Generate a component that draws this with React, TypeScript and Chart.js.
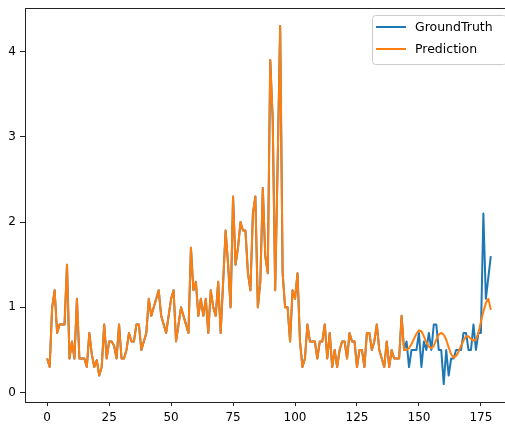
import React, { useEffect, useRef } from "react";
import { Chart, registerables } from "chart.js";

Chart.register(...registerables);

// Shared history (GroundTruth and Prediction coincide), index 0..144
const history: number[] = [
  0.4, 0.3, 1.0, 1.2, 0.7, 0.8, 0.8, 0.8, 1.5, 0.4,
  0.6, 0.4, 1.1, 0.4, 0.4, 0.4, 0.3, 0.7, 0.45, 0.3,
  0.38, 0.2, 0.3, 0.8, 0.4, 0.6, 0.6, 0.55, 0.4, 0.8,
  0.4, 0.4, 0.5, 0.7, 0.6, 0.6, 0.8, 0.8, 0.5, 0.6,
  0.7, 1.1, 0.9, 1.0, 1.1, 1.2, 0.9, 0.8, 0.7, 0.9,
  1.1, 1.2, 0.6, 0.8, 1.0, 0.9, 0.8, 0.7, 1.7, 1.2,
  1.3, 0.9, 1.1, 0.9, 1.1, 0.7, 1.2, 1.0, 0.9, 1.3,
  0.7, 1.3, 1.9, 1.5, 1.0, 2.3, 1.5, 1.7, 2.0, 1.9,
  1.9, 1.4, 1.2, 2.1, 2.3, 1.0, 1.3, 2.4, 1.6, 1.4,
  3.9, 3.2, 1.2, 2.7, 4.3, 1.4, 1.0, 1.0, 0.6, 1.2,
  1.1, 1.4, 0.6, 0.3, 0.4, 0.8, 0.6, 0.6, 0.6, 0.4,
  0.6, 0.6, 0.8, 0.4, 0.7, 0.3, 0.5, 0.3, 0.5, 0.6,
  0.6, 0.4, 0.7, 0.6, 0.6, 0.3, 0.5, 0.5, 0.3, 0.7,
  0.7, 0.5, 0.6, 0.8, 0.5, 0.4, 0.3, 0.6, 0.3, 0.5,
  0.4, 0.4, 0.4, 0.9, 0.5,
];

// Index 145..179
const groundTruthTail: number[] = [
  0.6, 0.3, 0.5, 0.5, 0.5, 0.7, 0.3, 0.6, 0.5, 0.7,
  0.5, 0.8, 0.8, 0.5, 0.5, 0.1, 0.5, 0.2, 0.4, 0.4,
  0.5, 0.5, 0.5, 0.7, 0.7, 0.5, 0.5, 0.8, 0.5, 0.7,
  0.7, 2.1, 1.1, 1.35, 1.6,
];

const predictionTail: number[] = [
  0.5, 0.52, 0.57, 0.63, 0.69, 0.73, 0.72, 0.66, 0.59, 0.54,
  0.52, 0.55, 0.62, 0.68, 0.7, 0.68, 0.62, 0.53, 0.45, 0.41,
  0.43, 0.48, 0.55, 0.61, 0.66, 0.66, 0.63, 0.61, 0.62, 0.7,
  0.83, 0.95, 1.05, 1.1, 0.97,
];

const groundTruth = [...history, ...groundTruthTail];
const prediction = [...history, ...predictionTail];

const seriesLabels = ["GroundTruth", "Prediction"];
const seriesColors = ["#1f77b4", "#ff7f0e"];
const xTicks = [0, 25, 50, 75, 100, 125, 150, 175];
const yTicks = [0, 1, 2, 3, 4];

const FONT = "'DejaVu Sans', sans-serif";

function margins(vals: number[]) {
  const lo = Math.min(...vals);
  const hi = Math.max(...vals);
  const m = (hi - lo) * 0.05;
  return [lo - m, hi + m];
}

const framePlugin = {
  id: "frameAndLegend",
  afterDatasetsDraw(chart: any) {
    const { ctx, chartArea: a } = chart;
    ctx.save();
    // spines
    ctx.strokeStyle = "#222";
    ctx.lineWidth = 1;
    ctx.strokeRect(
      Math.round(a.left) + 0.5,
      Math.round(a.top) + 0.5,
      Math.round(a.right) - Math.round(a.left),
      Math.round(a.bottom) - Math.round(a.top)
    );
    // legend
    const fs = 12.5;
    ctx.font = `${fs}px ${FONT}`;
    const pad = 4;
    const handle = 30;
    const gap = 9;
    const right = a.right - 7;
    const left = a.right - 141;
    const top = a.top + 7;
    const width = right - left;
    const height = 49;
    ctx.beginPath();
    ctx.roundRect(Math.round(left) + 0.5, Math.round(top) + 0.5, width, height, 3);
    ctx.fillStyle = "rgba(255,255,255,0.8)";
    ctx.fill();
    ctx.strokeStyle = "#cccccc";
    ctx.stroke();
    const rows = [top + 12, top + 34];
    seriesLabels.forEach((lab, i) => {
      const y = rows[i];
      ctx.beginPath();
      ctx.strokeStyle = seriesColors[i];
      ctx.lineWidth = 2;
      ctx.moveTo(left + pad, y);
      ctx.lineTo(left + pad + handle, y);
      ctx.stroke();
      ctx.fillStyle = "#000";
      ctx.textBaseline = "middle";
      ctx.textAlign = "left";
      ctx.fillText(lab, left + pad + handle + gap, y + 0.5);
    });
    ctx.restore();
  },
};

export default function App() {
  const ref = useRef<HTMLCanvasElement | null>(null);

  useEffect(() => {
    if (!ref.current) return;
    const xs = groundTruth.map((_, i) => i);
    const [xMin, xMax] = margins(xs);
    const [yMin, yMax] = margins([...groundTruth, ...prediction]);

    const tickFont = { family: FONT, size: 12 };
    const gridX = {
      display: true,
      drawOnChartArea: false,
      drawTicks: true,
      tickLength: 4,
      tickColor: "#222",
      tickWidth: 1,
    };
    const gridY = { ...gridX, tickLength: 5 };

    const chart = new Chart(ref.current, {
      type: "line",
      data: {
        datasets: [
          {
            label: seriesLabels[0],
            data: groundTruth.map((v, i) => ({ x: i, y: v })),
            borderColor: seriesColors[0],
            backgroundColor: seriesColors[0],
            borderWidth: 2,
            pointRadius: 0,
            tension: 0,
            fill: false,
            borderJoinStyle: "round",
            order: 1,
          },
          {
            label: seriesLabels[1],
            data: prediction.map((v, i) => ({ x: i, y: v })),
            borderColor: seriesColors[1],
            backgroundColor: seriesColors[1],
            borderWidth: 2,
            pointRadius: 0,
            tension: 0,
            fill: false,
            borderJoinStyle: "round",
            order: 0,
          },
        ],
      },
      options: {
        responsive: false,
        animation: false,
        devicePixelRatio: 1,
        layout: { padding: { top: 8, right: 7, left: 0, bottom: 0 } },
        plugins: {
          legend: { display: false },
          tooltip: { enabled: false },
        },
        scales: {
          x: {
            type: "linear",
            min: xMin,
            max: xMax,
            afterBuildTicks: (s: any) => {
              s.ticks = xTicks.map((v) => ({ value: v }));
            },
            afterFit: (s: any) => {
              s.height = 31;
              s.paddingLeft = 0;
              s.paddingRight = 0;
            },
            grid: gridX,
            border: { display: false },
            ticks: {
              font: tickFont,
              color: "#000",
              padding: 5,
              maxRotation: 0,
              autoSkip: false,
              callback: (v: any) => String(v),
            },
          },
          y: {
            type: "linear",
            min: yMin,
            max: yMax,
            afterBuildTicks: (s: any) => {
              s.ticks = yTicks.map((v) => ({ value: v }));
            },
            afterFit: (s: any) => {
              s.width = 25;
              s.paddingTop = 0;
              s.paddingBottom = 0;
            },
            grid: gridY,
            border: { display: false },
            ticks: {
              font: tickFont,
              color: "#000",
              padding: 4,
              autoSkip: false,
              callback: (v: any) => String(v),
            },
          },
        },
      },
      plugins: [framePlugin],
    } as any);

    return () => chart.destroy();
  }, []);

  return (
    <div
      style={{
        position: "fixed",
        left: 0,
        top: 0,
        width: 505,
        height: 433,
        overflow: "hidden",
        background: "#fff",
      }}
    >
      <canvas
        ref={ref}
        width={520}
        height={433}
        style={{ display: "block", width: 520, height: 433 }}
      />
    </div>
  );
}
